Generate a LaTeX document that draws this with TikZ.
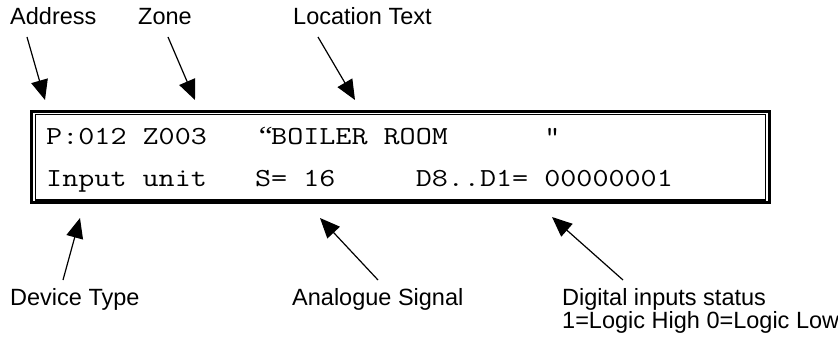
\documentclass[tikz,border=0pt]{standalone}
\usepackage{fontspec}
\setmainfont{Liberation Sans}
\newfontfamily\quotefont{Liberation Serif}
\usetikzlibrary{arrows.meta}
% one empty character cell
\newcommand{\lcdsp}{\phantom{0}}
% curly opening quote set in one character cell
\newcommand{\lcdopenq}{\rlap{\hspace{0.12em}\quotefont “}\lcdsp}
\begin{document}
\begin{tikzpicture}[x=1pt,y=-1pt,
  lbl/.style={font=\fontsize{23.5}{28}\selectfont, inner sep=0pt, anchor=base west},
  lcd/.style={font=\ttfamily\fontsize{26}{30}\selectfont, inner sep=0pt, anchor=base west, transform shape},
  pointer/.style={line width=1.2pt, -{Triangle[length=20pt,width=17pt]}},
  frameouter/.style={line width=2.8pt},
  frameinner/.style={line width=1.2pt}]
\useasboundingbox (0,0) rectangle (838,342);

% display frame: heavy outer border with a thin inner rule
\draw[frameouter] (31.5,111.2) rectangle (769.5,202.8);
\draw[line width=1.5pt] (31.5,201.5) -- (769.5,201.5);
\draw[frameinner] (35.2,114.6) rectangle (765.8,200);

% display lines, typewriter face widened to a 16pt character cell
\begin{scope}[shift={(46,145)}, xscale=1.2]
\node[lcd] (line1) at (0,0) {P:012\lcdsp Z003\lcdsp\lcdsp\lcdsp\lcdopenq BOILER\lcdsp ROOM\lcdsp\lcdsp\lcdsp\lcdsp\lcdsp\lcdsp "};
\end{scope}
\begin{scope}[shift={(46,186)}, xscale=1.2]
\node[lcd] (line2) at (0,0) {Input\lcdsp unit\lcdsp\lcdsp\lcdsp S=\lcdsp 16\lcdsp\lcdsp\lcdsp\lcdsp\lcdsp D8..D1=\lcdsp 00000001};
\end{scope}

% labels
\node[lbl] (addr) at (10,25) {Address};
\node[lbl] (zone) at (138,25) {Zone};
\node[lbl] (loc) at (293,25) {Location Text};
\node[lbl] (dev) at (10,305) {Device Type};
\node[lbl] (ana) at (292,305) {Analogue Signal};
\node[lbl] (dig) at (562,305) {Digital inputs status};
\node[lbl] (dig2) at (562,328) {1=Logic High 0=Logic Low};

% pointer ends
\coordinate (addrT) at (27,37);   \coordinate (addrH) at (45,100);
\coordinate (zoneT) at (168,37);  \coordinate (zoneH) at (195,100);
\coordinate (locT) at (318,37);   \coordinate (locH) at (355,100);
\coordinate (devT) at (63,280);   \coordinate (devH) at (80,218);
\coordinate (anaT) at (378,280);  \coordinate (anaH) at (320,218);
\coordinate (digT) at (623,280);  \coordinate (digH) at (552,217);

\draw[pointer] (addrT) -- (addrH);
\draw[pointer] (zoneT) -- (zoneH);
\draw[pointer] (locT) -- (locH);
\draw[pointer] (devT) -- (devH);
\draw[pointer] (anaT) -- (anaH);
\draw[pointer] (digT) -- (digH);
\end{tikzpicture}
\end{document}
